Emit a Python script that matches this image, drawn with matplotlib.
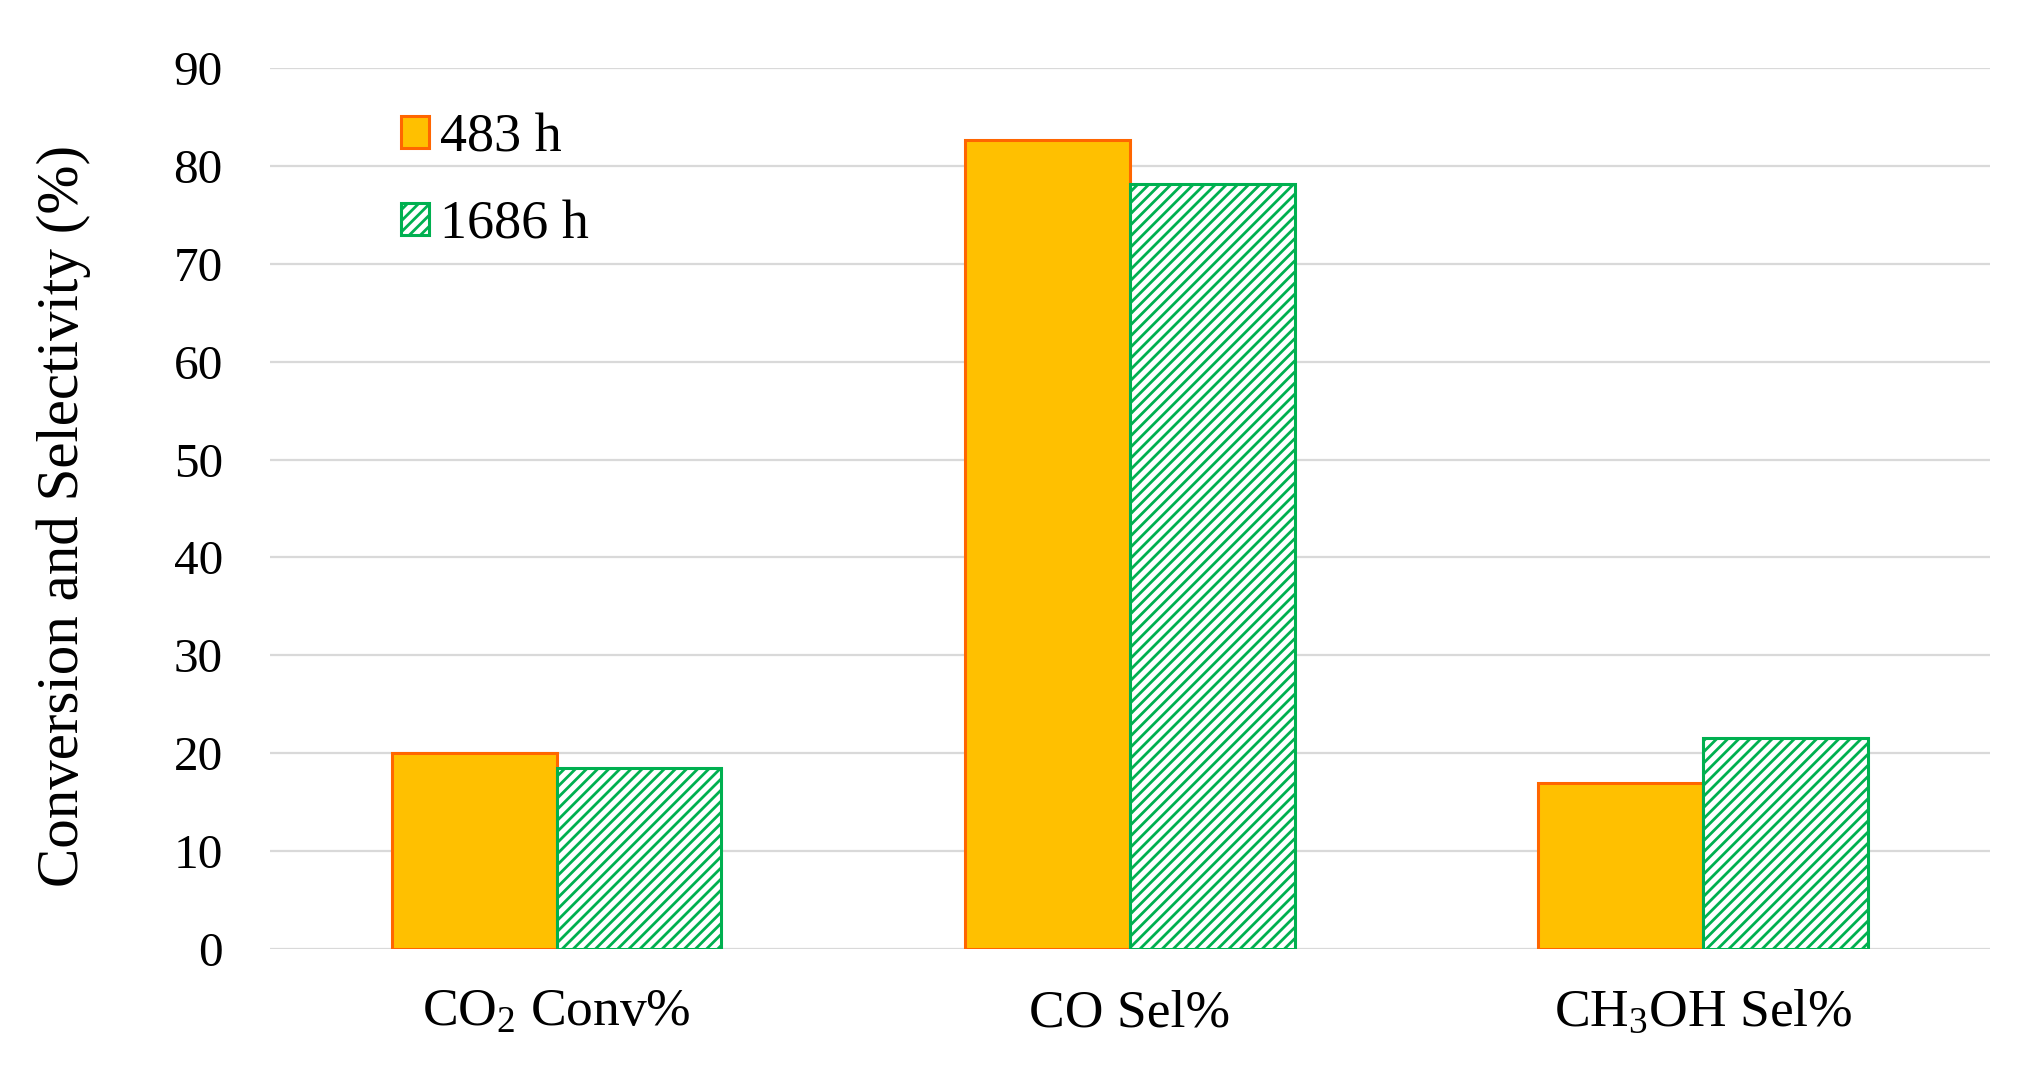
import matplotlib
matplotlib.use("Agg")
import matplotlib.pyplot as plt
import numpy as np

categories = ["CO$_\\mathrm{2}$ Conv%", "CO Sel%", "CH$_\\mathrm{3}$OH Sel%"]
series_names = ["483 h", "1686 h"]
values_483 = [20.0, 82.6, 17.0]
values_1686 = [18.5, 78.1, 21.6]
yticks = [0, 10, 20, 30, 40, 50, 60, 70, 80, 90]

plt.rcParams['font.family'] = ['Liberation Serif', 'DejaVu Serif']
plt.rcParams['mathtext.fontset'] = 'custom'
plt.rcParams['mathtext.rm'] = 'Liberation Serif'
plt.rcParams['mathtext.it'] = 'Liberation Serif:italic'
plt.rcParams['hatch.linewidth'] = 2.0

W, H = 2041, 1084
fig = plt.figure(figsize=(W / 100, H / 100), dpi=100)
ax = fig.add_axes([270 / W, 1 - 949 / H, 1720 / W, 881 / H])

x = np.arange(len(categories))
bw = 0.2875
ax.bar(x - bw / 2, values_483, bw, color='#FFC000', edgecolor='#FF6600',
       linewidth=2.2, label=series_names[0], zorder=3)
ax.bar(x + bw / 2, values_1686, bw, color='white', edgecolor='#00B050',
       hatch='///', linewidth=2.2, label=series_names[1], zorder=3)

ax.set_xlim(-0.5, 2.5)
ax.set_ylim(0, 90)
ax.set_yticks(yticks)
ax.set_xticks(x)
ax.set_xticklabels(categories)
ax.grid(axis='y', color='#D9D9D9', linewidth=1.6, zorder=0)
ax.set_axisbelow(True)
for s in ax.spines.values():
    s.set_visible(False)
ax.tick_params(axis='both', length=0)
ax.tick_params(axis='y', labelsize=35.5, pad=34)
ax.tick_params(axis='x', labelsize=38.5, pad=29)

ax.set_ylabel("Conversion and Selectivity (%)", fontsize=42.5)
ax.yaxis.set_label_coords((64 - 270) / 1720, (949 - 516) / 881)
ax.yaxis.label.set_va('center')

leg = ax.legend(loc='center left', bbox_to_anchor=(401 / W, 1 - 181.5 / H),
                bbox_transform=fig.transFigure, frameon=False, fontsize=39,
                handlelength=0.52, handleheight=0.52, handletextpad=0.2,
                borderpad=0, borderaxespad=0, labelspacing=0.68)

fig.savefig("out.png", dpi=100)
